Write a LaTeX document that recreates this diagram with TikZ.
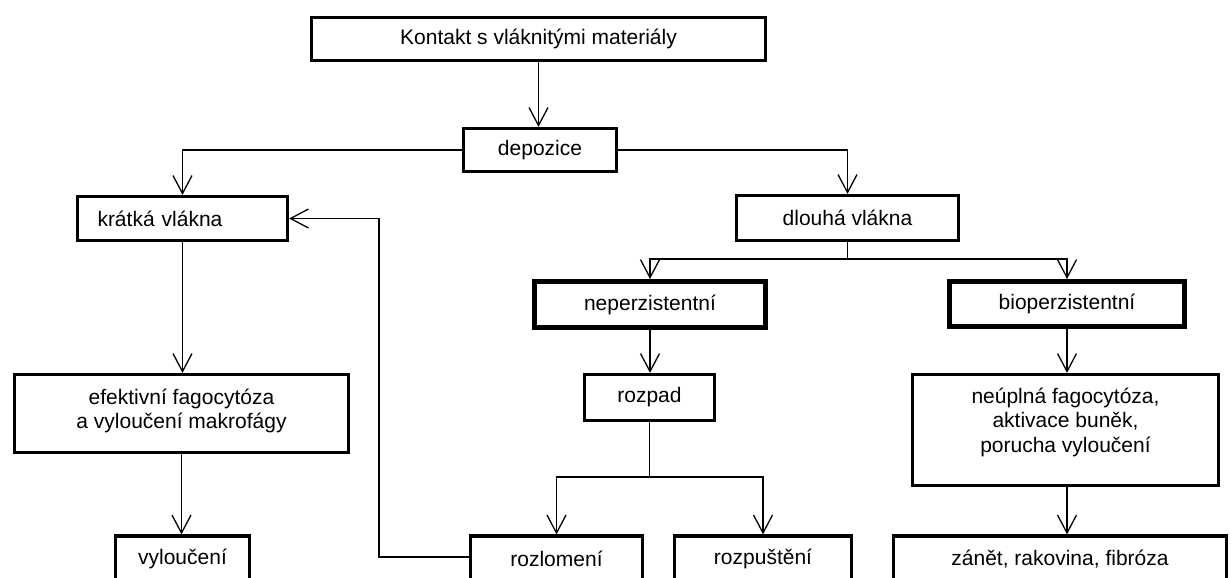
\documentclass[tikz,border=0pt]{standalone}
\usepackage{fontspec}
\setmainfont{Liberation Sans}
\usetikzlibrary{arrows.meta, positioning}
\tikzset{
    x=0.5pt, y=-0.5pt, % one unit is one pixel of the scheme
    box/.style={draw, line width=1.6pt, inner sep=0pt, align=center,
        font=\fontsize{10.5}{12.2}\selectfont}, % plain framed box
    heavybox/.style={box, line width=2.5pt}, % box with the thicker frame
}
\tikzstyle{arrow} = [line width=0.65pt, -{Straight Barb[length=9pt, width=9.5pt]}]
\tikzstyle{line} = [line width=0.65pt]

\begin{document}
\begin{tikzpicture}
    \useasboundingbox (0,0) rectangle (1231,578);
    \clip (0,0) rectangle (1231,578);

    % boxes
    \node[box, minimum width=227pt, minimum height=21.5pt] (kontakt) at (538.5,39) {Kontakt s vláknitými materiály};
    \node[box, minimum width=76.5pt, minimum height=21.5pt] (depozice) at (540,150) {depozice};
    \node[box, minimum width=105pt, minimum height=22pt, text width=85pt, align=left, inner xsep=10pt] (kratka) at (182.5,218.5) {krátká vlákna};
    \node[box, minimum width=111pt, minimum height=22.5pt] (dlouha) at (847.5,218) {dlouhá vlákna};
    \node[heavybox, minimum width=115.5pt, minimum height=23pt] (neperz) at (650,304.5) {neperzistentní};
    \node[heavybox, minimum width=117.5pt, minimum height=22.5pt] (bioperz) at (1067,304) {bioperzistentní};
    \node[box, minimum width=65pt, minimum height=23pt] (rozpad) at (649.5,397.5) {rozpad};
    \node[box, minimum width=167pt, minimum height=39pt, text depth=4.5pt] (efekt) at (181.5,413.5) {efektivní fagocytóza\\a vyloučení makrofágy};
    \node[box, minimum width=153pt, minimum height=55.5pt, text depth=10pt] (neuplna) at (1065.5,430) {neúplná fagocytóza,\\aktivace buněk,\\porucha vyloučení};
    \node[box, minimum width=67pt, minimum height=23pt] (vylouc) at (182.5,559) {vyloučení};
    \node[box, minimum width=86pt, minimum height=23pt] (rozlom) at (556.5,559) {rozlomení};
    \node[box, minimum width=88.5pt, minimum height=23pt] (rozpust) at (763,559) {rozpuštění};
    \node[box, minimum width=166.5pt, minimum height=23pt] (zanet) at (1060,559) {zánět, rakovina, fibróza};

    % connectors
    \draw[arrow] (kontakt.south) -- (kontakt.south |- depozice.north);
    \draw[arrow] (depozice.west) -| (kratka.north);
    \draw[arrow] (depozice.east) -| (dlouha.north);
    \coordinate (dsplit) at (847.5,259);
    \draw[line] (dlouha.south) -- (dsplit);
    \draw[arrow] (dsplit) -| (neperz.north);
    \draw[arrow] (dsplit) -| (bioperz.north);
    \draw[arrow] (kratka.south) -- (kratka.south |- efekt.north);
    \draw[arrow] (efekt.south) -- (efekt.south |- vylouc.north);
    \draw[arrow] (neperz.south) -- (neperz.south |- rozpad.north);
    \coordinate (rsplit) at (649.5,477);
    \draw[line] (rozpad.south) -- (rsplit);
    \draw[arrow] (rsplit) -| (rozlom.north);
    \draw[arrow] (rsplit) -| (rozpust.north);
    \draw[arrow] (bioperz.south) -- (bioperz.south |- neuplna.north);
    \draw[arrow] (bioperz.south |- neuplna.south) -- (bioperz.south |- zanet.north);
    % way back of the broken fibres
    \coordinate (back) at (379,557);
    \draw[arrow] (rozlom.west |- back) -- (back) |- (kratka.east);
\end{tikzpicture}
\end{document}
